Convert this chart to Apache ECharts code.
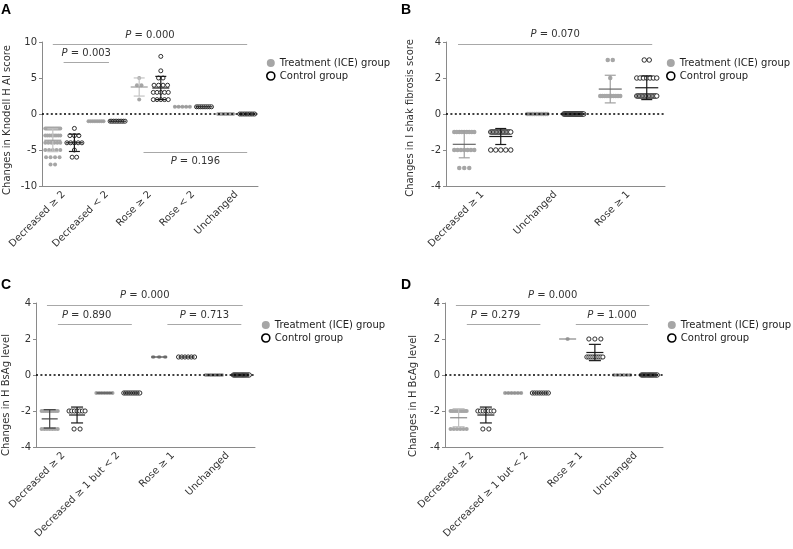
<!DOCTYPE html>
<html><head><meta charset="utf-8">
<script src="https://cdn.jsdelivr.net/npm/echarts@6/dist/echarts.min.js"></script>
<style>html,body{margin:0;padding:0;background:#fff}#c{width:793px;height:549px}</style>
</head><body><div id="c"></div>
<script>
const treatName = 'Treatment (ICE) group';
const ctrlName = 'Control group';

// ---- Panel A: Knodell HAI score ([value, count] rows per group)
const aCategories = ['Decreased ≥ 2', 'Decreased < 2', 'Rose ≥ 2', 'Rose < 2', 'Unchanged'];
const aTreatment = [
  [[-2, 12], [-3, 8], [-4, 6], [-5, 5], [-6, 4], [-7, 2]],
  [[-1, 8]],
  [[5, 1], [4, 2], [2, 1]],
  [[1, 5]],
  [[0, 8]]
];
const aControl = [
  [[-2, 1], [-3, 3], [-4, 5], [-5, 1], [-6, 2]],
  [[-1, 10]],
  [[8, 1], [6, 1], [5, 2], [4, 4], [3, 5], [2, 5]],
  [[1, 9]],
  [[0, 10]]
];
const aYTicks = [-10, -5, 0, 5, 10];
const aPValues = [
  { text: '0.000', y: 9.7, from: 0, to: 9, pos: 'insideMiddleTop' },
  { text: '0.003', y: 7.2, from: 0.5, to: 2.6, pos: 'insideMiddleTop' },
  { text: '0.196', y: -5.3, from: 4.2, to: 9, pos: 'insideMiddleBottom' }
];

// ---- Panel B: Ishak fibrosis score
const bCategories = ['Decreased ≥ 1', 'Unchanged', 'Rose ≥ 1'];
const bTreatment = [
  [[-1, 9], [-2, 7], [-3, 3]],
  [[0, 12]],
  [[3, 2], [2, 1], [1, 10]]
];
const bControl = [
  [[-1, 15], [-2, 5]],
  [[0, 20]],
  [[3, 2], [2, 7], [1, 15]]
];
const bYTicks = [-4, -2, 0, 2, 4];
const bPValues = [
  { text: '0.070', y: 3.9, from: -0.17, to: 5.15, pos: 'insideMiddleTop' }
];

// ---- Panel C: HBsAg level
const cCategories = ['Decreased ≥ 2', 'Decreased ≥ 1 but < 2', 'Rose ≥ 1', 'Unchanged'];
const cTreatment = [
  [[-2, 9], [-3, 7]],
  [[-1, 7]],
  [[1, 3]],
  [[0, 8]]
];
const cControl = [
  [[-2, 7], [-3, 2]],
  [[-1, 10]],
  [[1, 6]],
  [[0, 15]]
];
const cYTicks = [-4, -2, 0, 2, 4];
const cPValues = [
  { text: '0.000', y: 3.9, from: -0.1, to: 7.05, pos: 'insideMiddleTop' },
  { text: '0.890', y: 2.83, from: 0.3, to: 3.0, pos: 'insideStartTop' },
  { text: '0.713', y: 2.83, from: 4.3, to: 7.0, pos: 'insideMiddleTop' }
];

// ---- Panel D: HBcAg level
const dCategories = ['Decreased ≥ 2', 'Decreased ≥ 1 but < 2', 'Rose ≥ 1', 'Unchanged'];
const dTreatment = [
  [[-2, 10], [-3, 6]],
  [[-1, 6]],
  [[2, 1]],
  [[0, 6]]
];
const dControl = [
  [[-2, 7], [-3, 2]],
  [[-1, 8]],
  [[2, 3], [1, 9]],
  [[0, 15]]
];
const dYTicks = [-4, -2, 0, 2, 4];
const dPValues = [
  { text: '0.000', y: 3.9, from: -0.1, to: 7.0, pos: 'insideMiddleTop' },
  { text: '0.279', y: 2.83, from: 0.3, to: 3.0, pos: 'insideStartTop' },
  { text: '1.000', y: 2.83, from: 4.3, to: 6.95, pos: 'insideMiddleTop' }
];

// ---- layout / style per panel
const panels = [
  { letter: 'A', cats: aCategories, treat: aTreatment, ctrl: aControl, ticks: aYTicks, p: aPValues,
    yName: 'Changes in Knodell H AI score',
    grid: { left: 42, top: 42, width: 216, height: 144 }, nameXY: [7, 120], letterXY: [1, 3],
    legend: { left: 266, top: 58 }, rowW: 15, sMax: 4.5, sym: 4, meanHW: 8.5, capHW: 5.5,
    tErr: '#c4c4c4', tMean: '#9a9a9a' },
  { letter: 'B', cats: bCategories, treat: bTreatment, ctrl: bControl, ticks: bYTicks, p: bPValues,
    yName: 'Changes in I shak fibrosis score',
    grid: { left: 446, top: 42, width: 219, height: 144 }, nameXY: [410, 118], letterXY: [401, 3],
    legend: { left: 666, top: 58 }, rowW: 20, sMax: 5, sym: 4.5, meanHW: 11.5, capHW: 5.5,
    tErr: '#a0a0a0', tMean: '#666' },
  { letter: 'C', cats: cCategories, treat: cTreatment, ctrl: cControl, ticks: cYTicks, p: cPValues,
    yName: 'Changes in H BsAg level',
    grid: { left: 36, top: 303, width: 219, height: 144 }, nameXY: [6, 395], letterXY: [1, 278],
    legend: { left: 261, top: 320 }, rowW: 16, sMax: 6, sym: 4.2, meanHW: 8, capHW: 6,
    tErr: '#444', tMean: '#444' },
  { letter: 'D', cats: dCategories, treat: dTreatment, ctrl: dControl, ticks: dYTicks, p: dPValues,
    yName: 'Changes in H BcAg level',
    grid: { left: 445, top: 303, width: 218, height: 144 }, nameXY: [413, 396], letterXY: [401, 278],
    legend: { left: 667, top: 320 }, rowW: 16, sMax: 6, sym: 4.2, meanHW: 8.5, capHW: 6,
    tErr: '#c0c0c0', tMean: '#888' }
];

const FONT = 'DejaVu Sans';
const axisCol = '#8a8a8a';
const textCol = '#333';

function swarm(groups, base, P) {
  const pts = [];
  groups.forEach(function (rows, g) {
    const x = 2 * g + base;
    rows.forEach(function (r) {
      const v = r[0], n = r[1];
      const s = n > 1 ? Math.min(P.sMax, P.rowW / (n - 1)) : 0;
      for (let i = 0; i < n; i++) {
        pts.push({ value: [x, v], symbolOffset: [(i - (n - 1) / 2) * s, 0] });
      }
    });
  });
  return pts;
}
function stats(groups, base) {
  return groups.map(function (rows, g) {
    let n = 0, sum = 0;
    rows.forEach(function (r) { n += r[1]; sum += r[0] * r[1]; });
    const m = sum / n;
    let ss = 0;
    rows.forEach(function (r) { ss += r[1] * (r[0] - m) * (r[0] - m); });
    const sd = n > 1 ? Math.sqrt(ss / (n - 1)) : 0;
    return [2 * g + base, m, sd, base];
  });
}

const option = {
  animation: false,
  textStyle: { fontFamily: FONT },
  grid: [], xAxis: [], yAxis: [], series: [], legend: [], graphic: []
};

panels.forEach(function (P, i) {
  const n2 = P.cats.length * 2;
  option.grid.push(Object.assign({ containLabel: false }, P.grid));
  option.xAxis.push({ type: 'value', gridIndex: i, min: -0.5, max: n2 - 0.5, show: false, position: 'top' });
  option.xAxis.push({ type: 'category', gridIndex: i, position: 'bottom', boundaryGap: true,
    data: new Array(n2).fill(''),
    axisLine: { onZero: false, lineStyle: { color: axisCol, width: 1 } },
    axisTick: { alignWithLabel: true, length: 5, lineStyle: { color: axisCol } },
    axisLabel: { show: false }, splitLine: { show: false } });
  option.xAxis.push({ type: 'category', gridIndex: i, position: 'bottom', boundaryGap: true,
    data: P.cats,
    axisLine: { show: false, onZero: false }, axisTick: { show: false }, splitLine: { show: false },
    axisLabel: { rotate: 45, interval: 0, margin: 7, fontSize: 10, color: textCol, fontFamily: FONT } });
  const t = P.ticks;
  option.yAxis.push({ type: 'value', gridIndex: i, min: t[0], max: t[t.length - 1], interval: t[1] - t[0],
    axisLine: { show: true, onZero: false, lineStyle: { color: axisCol } },
    axisTick: { show: true, length: 3, lineStyle: { color: axisCol } },
    splitLine: { show: false },
    axisLabel: { fontSize: 10, color: textCol, margin: 5, fontFamily: FONT } });

  const xi = 3 * i;
  const markData = [{ yAxis: 0, lineStyle: { color: '#000', type: [2, 2.4], width: 1.6 }, label: { show: false } }];
  P.p.forEach(function (q) {
    markData.push([
      { coord: [q.from, q.y], lineStyle: { color: '#a8a8a8', width: 1, type: 'solid' },
        label: { show: true, position: q.pos, distance: 4, formatter: '{i|P} = ' + q.text,
          color: textCol, fontSize: 10, fontFamily: FONT,
          rich: { i: { fontStyle: 'italic', fontSize: 10, color: textCol, fontFamily: FONT } } } },
      { coord: [q.to, q.y] }
    ]);
  });

  option.series.push({ type: 'scatter', name: treatName, xAxisIndex: xi, yAxisIndex: i,
    symbol: 'circle', symbolSize: P.sym, itemStyle: { color: '#a6a6a6', opacity: 1 }, z: 2,
    emphasis: { disabled: true }, data: swarm(P.treat, 0, P),
    markLine: { silent: true, symbol: ['none', 'none'], animation: false, data: markData } });
  option.series.push({ type: 'scatter', name: ctrlName, xAxisIndex: xi, yAxisIndex: i,
    symbol: 'circle', symbolSize: P.sym, itemStyle: { color: '#fff', borderColor: '#1a1a1a', borderWidth: 0.9, opacity: 1 }, z: 3,
    emphasis: { disabled: true }, data: swarm(P.ctrl, 1, P) });
  option.series.push({ type: 'custom', name: 'meanSD' + i, xAxisIndex: xi, yAxisIndex: i, z: 4,
    encode: { x: 0, y: 1 }, silent: true,
    data: stats(P.treat, 0).concat(stats(P.ctrl, 1)),
    renderItem: function (params, api) {
      const x = api.value(0), m = api.value(1), sd = api.value(2), ctrl = api.value(3);
      const c = api.coord([x, m]);
      const errCol = ctrl ? '#1a1a1a' : P.tErr;
      const meanCol = ctrl ? '#1a1a1a' : P.tMean;
      function ln(x1, y1, x2, y2, col) {
        return { type: 'line', shape: { x1: x1, y1: y1, x2: x2, y2: y2 }, style: { stroke: col, lineWidth: 1.2 } };
      }
      const ch = [];
      if (sd > 0) {
        const top = api.coord([x, m + sd]), bot = api.coord([x, m - sd]);
        ch.push(ln(c[0], top[1], c[0], bot[1], errCol));
        ch.push(ln(c[0] - P.capHW, top[1], c[0] + P.capHW, top[1], errCol));
        ch.push(ln(c[0] - P.capHW, bot[1], c[0] + P.capHW, bot[1], errCol));
      }
      ch.push(ln(c[0] - P.meanHW, c[1], c[0] + P.meanHW, c[1], meanCol));
      return { type: 'group', children: ch };
    } });

  option.legend.push({ left: P.legend.left, top: P.legend.top, orient: 'vertical', selectedMode: false,
    itemWidth: 8, itemHeight: 8, itemGap: 3, padding: 0,
    textStyle: { fontSize: 10, color: '#222', fontFamily: FONT },
    data: [
      { name: treatName, icon: 'circle', itemStyle: { color: '#a6a6a6', borderWidth: 0 } },
      { name: ctrlName, icon: 'circle', itemStyle: { color: '#fff', borderColor: '#000', borderWidth: 1.6 } }
    ] });

  option.graphic.push({ type: 'text', left: P.letterXY[0], top: P.letterXY[1],
    style: { text: P.letter, font: 'bold 14px "Liberation Sans", Arial', fill: '#000' } });
  option.graphic.push({ type: 'text', x: P.nameXY[0], y: P.nameXY[1], rotation: Math.PI / 2,
    style: { text: P.yName, font: '10px "DejaVu Sans"', fill: textCol, align: 'center', verticalAlign: 'middle' } });
});

const chart = echarts.init(document.getElementById('c'), null, { renderer: 'canvas' });
chart.setOption(option);
</script>
</body></html>
